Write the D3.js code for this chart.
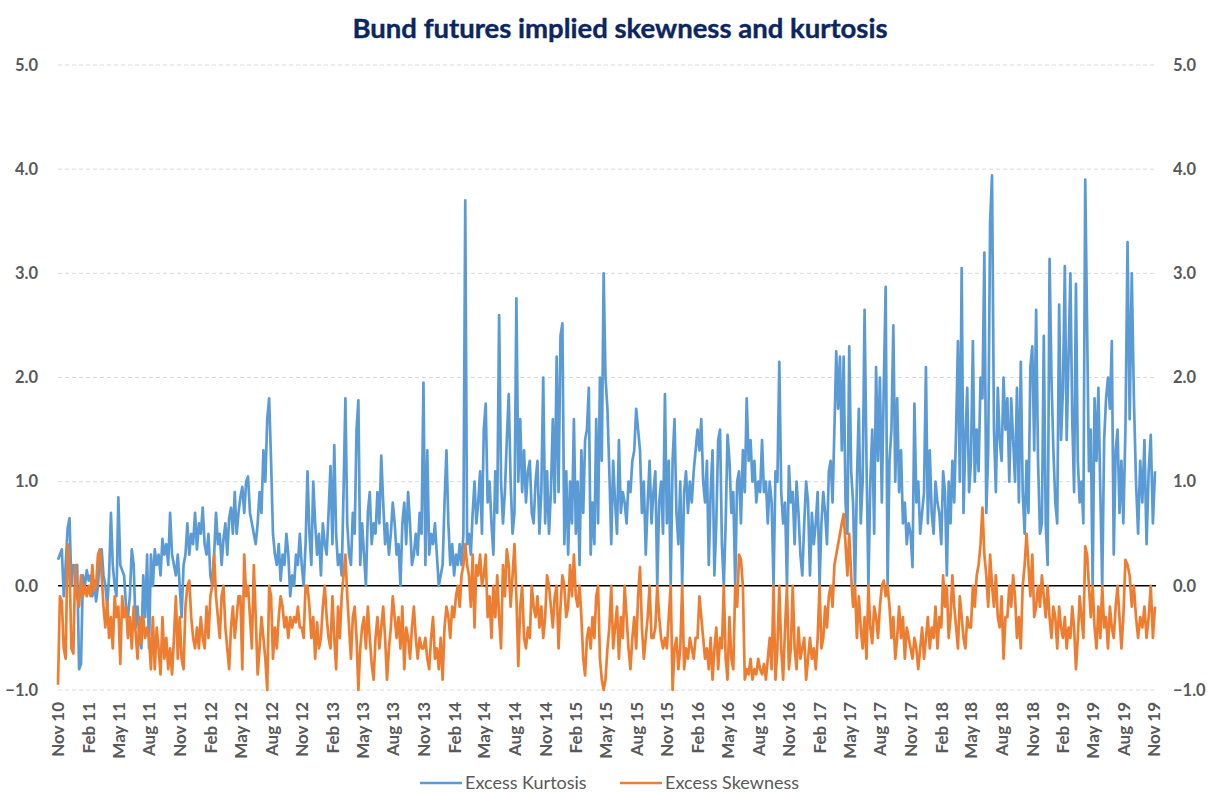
<!DOCTYPE html>
<html>
<head>
<meta charset="utf-8">
<script src="https://cdn.jsdelivr.net/npm/d3@7"></script>
<style>
  body { margin: 0; background: #ffffff; }
  svg text { font-family: Lato, "Open Sans", "DejaVu Sans", sans-serif; }
</style>
</head>
<body>
<svg id="chart" width="1208" height="792"></svg>
<script>
// Quarter tick labels along the time axis (Nov 2010 .. Nov 2019)
const tickLabels = ["Nov 10","Feb 11","May 11","Aug 11","Nov 11","Feb 12","May 12","Aug 12",
  "Nov 12","Feb 13","May 13","Aug 13","Nov 13","Feb 14","May 14","Aug 14","Nov 14","Feb 15",
  "May 15","Aug 15","Nov 15","Feb 16","May 16","Aug 16","Nov 16","Feb 17","May 17","Aug 17",
  "Nov 17","Feb 18","May 18","Aug 18","Nov 18","Feb 19","May 19","Aug 19","Nov 19"];

const yTicks = [-1, 0, 1, 2, 3, 4, 5];

// Excess kurtosis, one row per quarter (sampled evenly through each quarter)
const kurtosis = [
  [0.25,0.3,0.35,-0.1,0.2,0.55,0.65,0.0,0.2,0.15,0.2,-0.8,-0.75,0.1,0.0,0.15],
  [0.05,0.1,-0.1,0.05,-0.15,0.0,0.3,0.35,0.1,0.0,-0.2,0.1,0.7,0.2,0.0,-0.1],
  [0.85,0.2,0.15,0.1,-0.2,-0.3,-0.1,0.35,0.2,-0.4,-0.2,-0.5,-0.6,0.1,-0.3,0.3],
  [-0.6,0.3,0.0,0.35,0.2,0.3,0.1,0.45,0.3,0.4,0.2,0.7,0.3,0.2,0.1,0.3],
  [0.0,-0.3,0.2,0.3,0.6,0.3,0.5,0.4,0.7,0.35,0.6,0.5,0.75,0.4,0.3,0.5],
  [0.1,0.0,0.3,0.7,0.4,0.5,0.2,0.45,0.6,0.3,0.65,0.75,0.5,0.9,0.5,0.7],
  [0.85,0.95,0.7,1.0,1.05,0.7,0.6,0.5,0.4,0.6,0.9,0.7,1.3,1.0,1.6,1.8],
  [1.2,0.5,0.3,0.2,0.4,0.05,0.3,0.2,0.5,0.3,-0.1,0.1,0.0,0.3,0.2,0.5],
  [0.2,0.0,0.4,1.1,0.5,0.2,1.0,0.6,0.3,0.5,0.1,0.6,0.4,0.3,0.7,1.15],
  [0.4,1.35,0.5,0.2,0.3,0.1,0.9,1.8,0.6,0.3,0.2,0.7,0.5,1.5,1.78,0.2],
  [0.6,0.3,0.0,0.7,0.9,0.4,0.6,0.5,0.9,0.6,1.25,0.8,0.4,0.6,0.3,0.5],
  [0.8,0.6,0.3,0.4,0.0,0.6,0.8,0.4,0.9,0.6,0.2,0.3,0.5,0.3,0.7,0.5],
  [1.95,0.2,1.3,0.3,0.5,0.4,0.6,0.3,0.0,0.1,0.2,0.8,1.3,0.6,0.2,0.4],
  [0.1,0.3,0.2,0.4,0.2,0.5,3.7,0.4,0.5,0.3,0.7,1.0,0.6,0.8,1.1,0.5],
  [1.5,1.75,0.8,1.0,0.6,0.3,1.1,0.7,2.6,1.0,0.6,0.9,1.4,1.84,1.0,0.5],
  [0.7,2.76,1.0,1.6,0.9,1.3,0.8,1.1,1.2,0.7,0.6,1.0,1.2,0.5,0.9,2.0],
  [0.6,1.1,0.5,0.9,1.6,0.8,2.2,0.9,2.4,2.52,0.4,1.1,0.3,1.0,0.6,1.6],
  [0.5,1.0,0.2,1.3,0.7,1.4,1.5,1.9,0.3,0.8,0.4,1.6,0.6,2.0,1.2,3.0],
  [2.0,1.7,1.1,0.4,1.2,0.8,0.5,1.4,0.7,0.9,0.8,0.6,1.0,0.9,1.2,1.3],
  [1.7,1.5,1.3,0.7,1.0,0.3,0.8,1.2,0.6,0.9,1.1,0.0,0.8,1.0,0.5,1.84],
  [0.6,1.2,0.0,1.2,1.6,0.7,0.4,1.0,0.0,0.9,1.1,0.7,1.0,0.8,1.1,1.3],
  [1.5,1.3,1.6,1.0,0.8,1.2,0.2,0.9,1.3,0.1,0.6,1.4,1.5,0.4,0.0,0.6],
  [1.45,1.2,0.7,0.9,0.0,1.0,1.1,0.6,1.3,0.9,1.8,1.2,1.4,1.0,1.2,0.8],
  [1.0,0.9,1.4,0.9,1.0,0.6,1.0,0.8,0.0,1.1,1.0,2.15,0.9,0.6,0.8,0.0],
  [1.15,0.8,0.9,0.4,1.0,0.7,0.3,0.1,0.6,1.0,0.8,0.1,0.7,0.4,0.6,0.9],
  [0.0,0.6,0.9,0.7,0.4,1.1,1.2,0.8,1.5,2.25,1.7,2.2,1.3,2.2,0.8,0.5],
  [2.3,1.1,0.8,0.0,1.0,1.7,0.6,1.0,2.65,1.2,0.0,1.0,1.5,0.5,2.1,1.2],
  [2.0,0.8,1.9,2.87,0.0,1.2,1.5,2.5,1.0,1.8,0.9,1.3,0.6,0.8,0.4,0.6],
  [0.5,0.18,1.75,0.8,1.0,0.5,0.7,0.9,2.1,0.6,1.3,0.7,0.5,1.0,0.8,0.7],
  [0.4,1.1,0.9,0.1,1.0,0.6,1.2,0.8,1.5,2.35,1.0,3.05,0.7,1.4,1.9,0.9],
  [1.2,2.35,1.0,1.5,1.1,2.0,1.8,3.2,0.7,1.3,3.5,3.94,1.5,0.9,1.9,1.4],
  [1.2,2.0,1.5,1.8,1.0,1.8,1.4,1.0,1.9,0.8,2.15,0.9,0.5,1.2,0.7,2.1],
  [2.3,1.3,2.65,1.2,0.5,0.6,2.4,0.6,0.2,3.14,2.0,1.3,0.8,0.6,2.7,1.4],
  [1.9,3.07,1.4,2.2,3.0,1.6,0.9,2.9,1.2,0.8,1.0,0.6,3.9,2.5,1.1,1.5],
  [0.0,1.8,1.2,1.9,0.9,0.0,1.4,1.8,2.0,1.7,2.35,0.3,1.3,1.5,0.7,1.2],
  [0.6,1.5,3.3,1.6,3.0,1.8,1.0,0.5,1.2,0.8,1.4,0.4,1.1,1.45,0.6,1.1]
];

// Excess skewness, same quarterly layout
const skewness = [
  [-0.95,-0.1,-0.15,-0.6,-0.7,0.4,0.2,-0.6,-0.65,0.2,-0.1,-0.2,0.1,-0.1,0.0,-0.1],
  [0.0,-0.1,0.2,-0.05,0.0,0.3,0.35,0.1,-0.2,-0.4,-0.15,-0.5,-0.3,-0.6,-0.1,-0.3],
  [-0.2,-0.75,-0.1,-0.3,-0.2,-0.5,-0.3,-0.6,-0.2,-0.45,-0.7,-0.3,-0.55,-0.3,-0.5,-0.4],
  [-0.5,-0.8,-0.3,-0.8,-0.4,-0.6,-0.85,-0.3,-0.7,-0.5,-0.8,-0.6,-0.85,-0.5,-0.1,-0.7],
  [-0.3,-0.7,-0.8,-0.2,0.0,0.05,-0.3,-0.5,-0.6,-0.4,-0.6,-0.3,-0.5,-0.6,-0.2,-0.5],
  [-0.1,0.0,0.3,-0.1,-0.3,-0.5,-0.1,0.0,-0.4,-0.6,-0.8,-0.4,-0.2,-0.5,-0.3,-0.1],
  [-0.1,-0.8,0.3,-0.1,0.0,-0.3,-0.6,0.2,-0.3,-0.85,-0.6,-0.3,-0.5,-0.7,-1.0,0.0],
  [-0.1,-0.7,-0.4,-0.6,-0.3,-0.1,-0.2,-0.4,-0.3,-0.5,-0.3,-0.4,-0.3,-0.35,-0.2,-0.4],
  [-0.4,-0.5,0.0,0.0,-0.2,-0.5,-0.3,-0.7,-0.35,-0.6,-0.5,-0.2,0.0,-0.3,-0.5,-0.6],
  [-0.1,-0.5,-0.8,-0.2,-0.5,-0.1,0.1,0.3,-0.1,-0.4,-0.7,-0.3,-0.2,-0.5,-1.0,-0.6],
  [-0.4,-0.3,-0.6,-0.2,-0.5,-0.75,-0.9,-0.5,-0.3,-0.6,-0.4,-0.2,-0.5,-0.9,-0.6,-0.4],
  [-0.1,-0.3,-0.5,-0.3,-0.6,-0.2,-0.8,-0.4,-0.5,-0.7,-0.4,-0.2,-0.5,-0.7,-0.5,-0.6],
  [-0.6,-0.5,-0.7,-0.8,-0.5,-0.3,-0.7,-0.6,-0.8,-0.5,-0.9,-0.4,-0.2,-0.3,-0.5,-0.2],
  [-0.3,-0.1,0.0,-0.2,0.1,0.2,0.4,0.2,0.1,-0.2,0.3,-0.4,0.2,0.1,0.3,0.0],
  [0.1,0.3,-0.3,-0.1,-0.5,0.0,-0.3,0.1,-0.3,-0.6,0.2,-0.1,0.35,0.2,-0.2,0.1],
  [0.4,-0.1,-0.77,-0.2,0.0,-0.5,-0.6,-0.4,-0.5,0.0,-0.2,-0.3,-0.1,-0.4,-0.2,-0.5],
  [-0.3,0.1,0.0,-0.2,-0.4,-0.1,0.0,-0.6,-0.2,0.1,0.0,-0.3,-0.2,0.2,-0.1,0.3],
  [-0.1,-0.2,0.0,-0.3,-0.7,-0.86,-0.5,-0.4,-0.6,-0.3,-0.5,-0.1,0.0,-0.7,-0.9,-1.0],
  [-0.9,-0.6,-0.4,0.0,-0.6,-0.4,-0.2,-0.7,-0.3,-0.5,0.0,-0.3,-0.6,-0.8,-0.5,-0.3],
  [-0.6,-0.1,0.18,-0.4,-0.7,-0.5,-0.3,0.0,-0.5,-0.5,-0.4,0.0,-0.3,-0.5,-0.6,-0.5],
  [-0.6,-0.3,0.0,-1.0,-0.6,-0.5,-0.8,-0.6,0.0,-0.8,-0.6,-0.7,-0.5,-0.6,-0.7,-0.5],
  [-0.5,-0.1,-0.3,-0.5,-0.7,-0.6,-0.8,-0.5,-0.9,-0.6,-0.4,-0.8,-0.5,-0.6,0.0,-0.7],
  [-0.9,-0.3,-0.7,-0.8,0.0,-0.2,0.3,0.25,0.0,-0.9,-0.8,-0.85,-0.7,-0.9,-0.8,-0.85],
  [-0.7,-0.8,-0.85,-0.75,-0.9,-0.7,-0.5,-0.8,0.0,-0.9,-0.6,0.0,-0.6,-0.9,-0.4,0.0],
  [-0.8,-0.6,0.0,-0.6,-0.8,-0.4,-0.7,-0.6,-0.5,-0.9,-0.7,-0.5,-0.7,-0.6,-0.8,-0.5],
  [0.0,-0.6,-0.5,-0.2,-0.4,-0.1,0.0,-0.2,0.2,0.3,0.4,0.5,0.6,0.69,0.4,0.1],
  [0.5,0.1,-0.2,0.0,-0.5,-0.1,-0.4,-0.6,-0.3,-0.7,0.0,-0.4,-0.55,-0.2,-0.3,-0.5],
  [-0.2,0.0,0.05,-0.1,0.0,-0.2,-0.5,-0.3,-0.7,-0.5,-0.2,-0.5,-0.3,-0.7,-0.4,-0.5],
  [-0.6,-0.7,-0.5,-0.6,-0.8,-0.6,-0.4,-0.7,-0.5,-0.3,-0.6,-0.4,-0.5,-0.2,-0.6,-0.3],
  [-0.4,0.1,-0.2,0.0,-0.5,-0.3,0.1,-0.2,-0.4,-0.6,-0.1,-0.3,-0.5,-0.6,-0.3,-0.4],
  [-0.4,0.0,-0.2,0.1,0.2,0.4,0.75,0.3,0.1,-0.2,0.3,0.0,-0.2,0.1,-0.3,-0.4],
  [-0.1,-0.7,-0.3,-0.3,0.0,-0.2,0.1,-0.1,-0.5,-0.3,-0.6,0.0,0.2,0.5,0.2,-0.1],
  [0.3,-0.3,-0.2,0.0,-0.2,0.1,-0.1,-0.3,0.0,-0.3,-0.5,-0.2,-0.3,-0.6,-0.2,-0.4],
  [-0.5,-0.3,-0.6,-0.4,-0.5,-0.2,-0.4,-0.8,-0.5,-0.1,-0.3,-0.5,0.38,0.3,0.0,-0.3],
  [0.0,-0.4,-0.6,-0.2,-0.5,0.0,-0.4,-0.3,-0.6,-0.2,-0.4,-0.5,-0.2,0.0,-0.3,-0.6],
  [-0.3,0.25,0.2,0.1,-0.2,0.0,-0.3,-0.5,-0.3,-0.4,-0.2,-0.5,-0.3,0.0,-0.5,-0.2]
];

const seriesNames = ["Excess Kurtosis", "Excess Skewness"];
const seriesColors = ["#5B9BD5", "#ED7D31"];

const firstQuarter = new Date(2010, 10, 1);
const lastSample = new Date(2019, 10, 4);

// Spread each quarter's samples evenly across that quarter
function toPoints(rows) {
  const pts = [];
  rows.forEach((row, q) => {
    const start = d3.timeMonth.offset(firstQuarter, 3 * q);
    const end = q === rows.length - 1 ? lastSample : d3.timeMonth.offset(firstQuarter, 3 * (q + 1));
    const n = q === rows.length - 1 ? row.length - 1 : row.length;
    row.forEach((v, i) => {
      pts.push({ date: new Date(+start + (end - start) * i / n), value: v });
    });
  });
  return pts;
}

const svg = d3.select("#chart");
const plot = { left: 58, right: 1156, top: 65, bottom: 690 };

const tickDates = tickLabels.map((_, i) => d3.timeMonth.offset(firstQuarter, 3 * i));

const x = d3.scaleTime()
  .domain([firstQuarter, tickDates[tickDates.length - 1]])
  .range([58, 1154]);

const y = d3.scaleLinear()
  .domain([-1, 5])
  .range([plot.bottom, plot.top]);

// Title
svg.append("text")
  .attr("x", 620).attr("y", 38)
  .attr("text-anchor", "middle")
  .attr("font-size", 27.5).attr("font-weight", 700)
  .attr("fill", "#0B2660")
  .attr("stroke", "#0B2660").attr("stroke-width", 0.4)
  .text("Bund futures implied skewness and kurtosis");

// Horizontal dashed gridlines
svg.append("g")
  .selectAll("line")
  .data(yTicks.filter(t => t !== 0))
  .join("line")
  .attr("x1", plot.left).attr("x2", plot.right)
  .attr("y1", d => y(d)).attr("y2", d => y(d))
  .attr("stroke", "#D9D9D9").attr("stroke-width", 1)
  .attr("stroke-dasharray", "4,3");

// Zero line
svg.append("line")
  .attr("x1", plot.left).attr("x2", plot.right)
  .attr("y1", y(0)).attr("y2", y(0))
  .attr("stroke", "#000").attr("stroke-width", 1.5);

// Left and right value axes
const fmt = d3.format(".1f");
const yLeft = svg.append("g")
  .attr("transform", `translate(${plot.left - 20},0)`)
  .call(d3.axisLeft(y).tickValues(yTicks).tickFormat(fmt).tickSize(0));
const yRight = svg.append("g")
  .attr("transform", `translate(${plot.right + 17},0)`)
  .call(d3.axisRight(y).tickValues(yTicks).tickFormat(fmt).tickSize(0));
[yLeft, yRight].forEach(g => {
  g.select(".domain").remove();
  g.selectAll("text")
    .attr("font-family", "Lato, 'Open Sans', sans-serif")
    .attr("font-size", 16.5).attr("font-weight", 700)
    .attr("fill", "#595959");
});
yLeft.selectAll("text").attr("x", 0);
yRight.selectAll("text").attr("x", 0);

// Time axis with rotated quarter labels
const xAxis = svg.append("g")
  .attr("transform", `translate(0,${plot.bottom})`)
  .call(d3.axisBottom(x).tickValues(tickDates).tickFormat((d, i) => tickLabels[i]).tickSize(0));
xAxis.select(".domain").remove();
xAxis.selectAll("text")
  .attr("font-family", "Lato, 'Open Sans', sans-serif")
  .attr("font-size", 17).attr("font-weight", 700)
  .attr("fill", "#595959")
  .attr("text-anchor", "end")
  .attr("transform", "rotate(-90)")
  .attr("x", -12).attr("y", 0).attr("dy", "0.35em");

// Series lines: kurtosis first, skewness drawn over it
const line = d3.line().x(d => x(d.date)).y(d => y(d.value));
[kurtosis, skewness].forEach((rows, k) => {
  svg.append("path")
    .datum(toPoints(rows))
    .attr("fill", "none")
    .attr("stroke", seriesColors[k])
    .attr("stroke-width", 2.7)
    .attr("stroke-linejoin", "round")
    .attr("d", line);
});

// Legend
const legendItems = [
  { name: seriesNames[0], color: seriesColors[0], x: 420 },
  { name: seriesNames[1], color: seriesColors[1], x: 620 }
];
const lg = svg.append("g");
legendItems.forEach(it => {
  lg.append("line")
    .attr("x1", it.x).attr("x2", it.x + 42)
    .attr("y1", 783).attr("y2", 783)
    .attr("stroke", it.color).attr("stroke-width", 2.7);
  lg.append("text")
    .attr("x", it.x + 45).attr("y", 783).attr("dy", "0.35em")
    .attr("font-size", 18).attr("fill", "#595959")
    .text(it.name);
});
</script>
</body>
</html>
